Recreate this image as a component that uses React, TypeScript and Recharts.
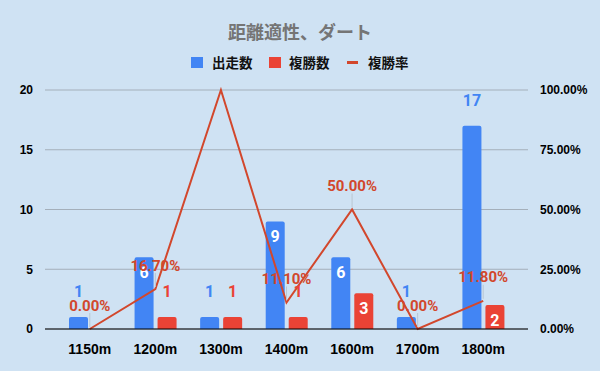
import React from "react";
import {ComposedChart, Bar, Line, XAxis, YAxis, CartesianGrid, LabelList} from "recharts";

const distances = ["1150m", "1200m", "1300m", "1400m", "1600m", "1700m", "1800m"];
const starts = [1, 6, 1, 9, 6, 1, 17];
const placed = [0, 1, 1, 1, 3, 0, 2];
const placeRate = [0, 16.7, 100, 11.1, 50, 0, 11.8];
const countTicks = [0, 5, 10, 15, 20];
const rateTicks = [0, 25, 50, 75, 100];

const BLUE = "#4285f4";
const RED = "#ea4335";
const LINE = "#d2472c";

const data = distances.map((d, i) => ({name: d, starts: starts[i], placed: placed[i], rate: placeRate[i]}));

const barLabel = (color: string) => (props: any) => {
    const {x, y, width, value} = props;
    if (!value) return null;
    const inside = value >= 2 && value < 15;
    return (
        <text x={x + width / 2} y={inside ? y + 21 : y - 20} textAnchor="middle"
              fill={inside ? "#ffffff" : color} fontSize={16} fontWeight="bold" fontFamily="Roboto">
            {value}
        </text>
    );
};

const rateLabel = (props: any) => {
    const {x, y, value} = props;
    if (y - 24 < 90) return null; // no room above the plot
    return (
        <g>
            <line x1={x} x2={x} y1={y - 16} y2={y - 2} stroke="#b9c6d2" strokeWidth={1} />
            <text x={x} y={y - 18.5} textAnchor="middle" fill={LINE} fontSize={15} fontWeight="bold" fontFamily="Roboto">
                {`${Number(value).toFixed(2)}%`}
            </text>
        </g>
    );
};

const tickStyle = {fill: "#000", fontSize: 12, fontWeight: "bold", fontFamily: "Liberation Sans"};
const legendText = {position: "absolute" as const, top: 54, fontSize: 13.5, fontWeight: "bold", fontFamily: "Noto Sans CJK JP", color: "#111", lineHeight: "16px"};

export default function App() {
    return (
        <div style={{position: "absolute", left: 0, top: 0, width: 600, height: 371, background: "#cfe2f3"}}>
            <div style={{position: "absolute", left: 0, width: 600, top: 19, textAlign: "center", fontSize: 18,
                fontWeight: "bold", color: "#757575", fontFamily: "Noto Sans CJK JP", lineHeight: "24px"}}>
                距離適性、ダート
            </div>
            <div style={{position: "absolute", left: 191, top: 57, width: 12, height: 11, background: BLUE}} />
            <div style={{...legendText, left: 212}}>出走数</div>
            <div style={{position: "absolute", left: 269, top: 57, width: 12, height: 11, background: RED}} />
            <div style={{...legendText, left: 289}}>複勝数</div>
            <div style={{position: "absolute", left: 347, top: 61, width: 11, height: 3, background: LINE}} />
            <div style={{...legendText, left: 368}}>複勝率</div>
            <ComposedChart width={600} height={371} data={data} margin={{top: 90, right: 0, bottom: 17, left: 0}}>
                <CartesianGrid vertical={false} stroke="#a4afba" yAxisId="count" />
                <XAxis dataKey="name" padding={{left: 12, right: 12}} height={25} tickLine={false}
                       axisLine={{stroke: "#000"}} tickMargin={9} tick={{...tickStyle, fontSize: 14}} />
                <YAxis yAxisId="count" domain={[0, 20]} ticks={countTicks} width={45} axisLine={false}
                       tickLine={false} tickMargin={6} tick={tickStyle} />
                <YAxis yAxisId="rate" orientation="right" domain={[0, 100]} ticks={rateTicks} width={72}
                       axisLine={false} tickLine={false} tickMargin={6} tick={tickStyle}
                       tickFormatter={(v: number) => `${v.toFixed(2)}%`} />
                <Bar yAxisId="count" dataKey="starts" fill={BLUE} barSize={19} radius={[2, 2, 0, 0]} isAnimationActive={false}>
                    <LabelList dataKey="starts" content={barLabel(BLUE)} />
                </Bar>
                <Bar yAxisId="count" dataKey="placed" fill={RED} barSize={19} radius={[2, 2, 0, 0]} isAnimationActive={false}>
                    <LabelList dataKey="placed" content={barLabel(RED)} />
                </Bar>
                <Line yAxisId="rate" dataKey="rate" type="linear" stroke={LINE} strokeWidth={2} dot={false}
                      activeDot={false} isAnimationActive={false}>
                    <LabelList dataKey="rate" content={rateLabel} />
                </Line>
            </ComposedChart>
        </div>
    );
}
